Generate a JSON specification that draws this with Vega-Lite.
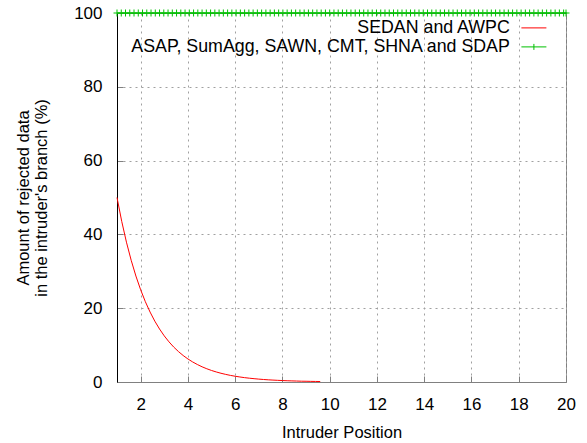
{
  "$schema": "https://vega.github.io/schema/vega-lite/v6.json",
  "width": 449,
  "height": 369,
  "autosize": {"type": "none"},
  "padding": {"left": 117, "top": 13, "right": 21, "bottom": 61},
  "background": "white",
  "config": {
    "font": "Liberation Sans",
    "view": {"stroke": "#808080", "strokeWidth": 1},
    "axis": {
      "labelFont": "Liberation Sans",
      "labelFontSize": 17,
      "labelColor": "black",
      "titleFont": "Liberation Sans",
      "titleFontSize": 16.5,
      "titleFontWeight": "normal",
      "titleColor": "black",
      "gridColor": "#a0a0a0",
      "gridDash": [2, 4],
      "gridWidth": 1,
      "tickColor": "#808080",
      "tickSize": -6
    },
    "legend": {
      "labelFont": "Liberation Sans",
      "labelFontSize": 17.8,
      "labelColor": "black"
    }
  },
  "datasets": {
    "red": [
      {"x": 1, "y": 50}, {"x": 1.2, "y": 43.53}, {"x": 1.4, "y": 37.89}, {"x": 1.6, "y": 32.99},
      {"x": 1.8, "y": 28.72}, {"x": 2, "y": 25}, {"x": 2.2, "y": 21.76}, {"x": 2.4, "y": 18.95},
      {"x": 2.6, "y": 16.49}, {"x": 2.8, "y": 14.36}, {"x": 3, "y": 12.5}, {"x": 3.2, "y": 10.88},
      {"x": 3.4, "y": 9.47}, {"x": 3.6, "y": 8.25}, {"x": 3.8, "y": 7.18}, {"x": 4, "y": 6.25},
      {"x": 4.2, "y": 5.44}, {"x": 4.4, "y": 4.74}, {"x": 4.6, "y": 4.12}, {"x": 4.8, "y": 3.59},
      {"x": 5, "y": 3.125}, {"x": 5.2, "y": 2.72}, {"x": 5.4, "y": 2.37}, {"x": 5.6, "y": 2.06},
      {"x": 5.8, "y": 1.79}, {"x": 6, "y": 1.56}, {"x": 6.2, "y": 1.36}, {"x": 6.4, "y": 1.18},
      {"x": 6.6, "y": 1.03}, {"x": 6.8, "y": 0.9}, {"x": 7, "y": 0.78}, {"x": 7.2, "y": 0.68},
      {"x": 7.4, "y": 0.59}, {"x": 7.6, "y": 0.52}, {"x": 7.8, "y": 0.45}, {"x": 8, "y": 0.39},
      {"x": 8.2, "y": 0.34}, {"x": 8.4, "y": 0.3}, {"x": 8.6, "y": 0.26}, {"x": 8.8, "y": 0.22},
      {"x": 9, "y": 0.2}, {"x": 9.2, "y": 0.17}, {"x": 9.4, "y": 0.15}, {"x": 9.6, "y": 0.13}
    ],
    "green": [
      {"x": 1, "y": 100}, {"x": 1.18, "y": 100}, {"x": 1.36, "y": 100}, {"x": 1.54, "y": 100},
      {"x": 1.72, "y": 100}, {"x": 1.9, "y": 100}, {"x": 2.08, "y": 100}, {"x": 2.26, "y": 100},
      {"x": 2.44, "y": 100}, {"x": 2.62, "y": 100}, {"x": 2.8, "y": 100}, {"x": 2.98, "y": 100},
      {"x": 3.16, "y": 100}, {"x": 3.34, "y": 100}, {"x": 3.52, "y": 100}, {"x": 3.7, "y": 100},
      {"x": 3.88, "y": 100}, {"x": 4.06, "y": 100}, {"x": 4.24, "y": 100}, {"x": 4.42, "y": 100},
      {"x": 4.6, "y": 100}, {"x": 4.78, "y": 100}, {"x": 4.96, "y": 100}, {"x": 5.14, "y": 100},
      {"x": 5.32, "y": 100}, {"x": 5.5, "y": 100}, {"x": 5.68, "y": 100}, {"x": 5.86, "y": 100},
      {"x": 6.04, "y": 100}, {"x": 6.22, "y": 100}, {"x": 6.4, "y": 100}, {"x": 6.58, "y": 100},
      {"x": 6.76, "y": 100}, {"x": 6.94, "y": 100}, {"x": 7.12, "y": 100}, {"x": 7.3, "y": 100},
      {"x": 7.48, "y": 100}, {"x": 7.66, "y": 100}, {"x": 7.84, "y": 100}, {"x": 8.02, "y": 100},
      {"x": 8.2, "y": 100}, {"x": 8.38, "y": 100}, {"x": 8.56, "y": 100}, {"x": 8.74, "y": 100},
      {"x": 8.92, "y": 100}, {"x": 9.1, "y": 100}, {"x": 9.28, "y": 100}, {"x": 9.46, "y": 100},
      {"x": 9.64, "y": 100}, {"x": 9.82, "y": 100}, {"x": 10, "y": 100}, {"x": 10.18, "y": 100},
      {"x": 10.36, "y": 100}, {"x": 10.54, "y": 100}, {"x": 10.72, "y": 100}, {"x": 10.9, "y": 100},
      {"x": 11.08, "y": 100}, {"x": 11.26, "y": 100}, {"x": 11.44, "y": 100}, {"x": 11.62, "y": 100},
      {"x": 11.8, "y": 100}, {"x": 11.98, "y": 100}, {"x": 12.16, "y": 100}, {"x": 12.34, "y": 100},
      {"x": 12.52, "y": 100}, {"x": 12.7, "y": 100}, {"x": 12.88, "y": 100}, {"x": 13.06, "y": 100},
      {"x": 13.24, "y": 100}, {"x": 13.42, "y": 100}, {"x": 13.6, "y": 100}, {"x": 13.78, "y": 100},
      {"x": 13.96, "y": 100}, {"x": 14.14, "y": 100}, {"x": 14.32, "y": 100}, {"x": 14.5, "y": 100},
      {"x": 14.68, "y": 100}, {"x": 14.86, "y": 100}, {"x": 15.04, "y": 100}, {"x": 15.22, "y": 100},
      {"x": 15.4, "y": 100}, {"x": 15.58, "y": 100}, {"x": 15.76, "y": 100}, {"x": 15.94, "y": 100},
      {"x": 16.12, "y": 100}, {"x": 16.3, "y": 100}, {"x": 16.48, "y": 100}, {"x": 16.66, "y": 100},
      {"x": 16.84, "y": 100}, {"x": 17.02, "y": 100}, {"x": 17.2, "y": 100}, {"x": 17.38, "y": 100},
      {"x": 17.56, "y": 100}, {"x": 17.74, "y": 100}, {"x": 17.92, "y": 100}, {"x": 18.1, "y": 100},
      {"x": 18.28, "y": 100}, {"x": 18.46, "y": 100}, {"x": 18.64, "y": 100}, {"x": 18.82, "y": 100},
      {"x": 19, "y": 100}, {"x": 19.18, "y": 100}, {"x": 19.36, "y": 100}, {"x": 19.54, "y": 100},
      {"x": 19.72, "y": 100}, {"x": 19.9, "y": 100}, {"x": 20, "y": 100}
    ]
  },
  "encoding": {
    "x": {
      "field": "x",
      "type": "quantitative",
      "scale": {"domain": [1, 20], "nice": false, "zero": false},
      "axis": {
        "title": "Intruder Position",
        "values": [2, 4, 6, 8, 10, 12, 14, 16, 18, 20],
        "labelPadding": 20,
        "titlePadding": 12,
        "domainColor": "#808080",
        "labelFlush": false
      }
    },
    "y": {
      "field": "y",
      "type": "quantitative",
      "scale": {"domain": [0, 100], "nice": false},
      "axis": {
        "title": ["Amount of rejected data", "in the intruder's branch (%)"],
        "values": [0, 20, 40, 60, 80, 100],
        "labelPadding": 21,
        "titlePadding": 24,
        "titleLineHeight": 18,
        "domainColor": "black",
        "labelFlush": false
      }
    },
    "color": {
      "datum": "SEDAN and AWPC",
      "type": "nominal",
      "scale": {
        "domain": ["SEDAN and AWPC", "ASAP, SumAgg, SAWN, CMT, SHNA and SDAP"],
        "range": ["#ff0000", "#00c000"]
      },
      "legend": {
        "title": null,
        "orient": "none",
        "legendX": 408,
        "legendY": 6,
        "padding": 0,
        "rowPadding": 0,
        "labelAlign": "right",
        "labelOffset": -33,
        "labelLimit": 0,
        "symbolSize": 100,
        "symbolStrokeWidth": 1,
        "encode": {
          "symbols": {
            "update": {
              "shape": {"signal": "datum.value === 'SEDAN and AWPC' ? 'M-2.5,0H2.5' : 'M-2.5,0H2.5M0,-0.6V0.6'"},
              "fill": {"value": "transparent"},
              "strokeWidth": {"value": 1}
            }
          }
        }
      }
    }
  },
  "layer": [
    {
      "data": {"name": "red"},
      "mark": {"type": "line", "strokeWidth": 1},
      "encoding": {"color": {"datum": "SEDAN and AWPC", "type": "nominal"}}
    },
    {
      "data": {"name": "green"},
      "mark": {"type": "line", "strokeWidth": 1},
      "encoding": {"color": {"datum": "ASAP, SumAgg, SAWN, CMT, SHNA and SDAP", "type": "nominal"}}
    },
    {
      "data": {"name": "green"},
      "mark": {"type": "point", "shape": "M-1,0H1M0,-1V1", "size": 49, "filled": false, "strokeWidth": 1, "opacity": 1},
      "encoding": {"color": {"datum": "ASAP, SumAgg, SAWN, CMT, SHNA and SDAP", "type": "nominal"}}
    }
  ]
}
